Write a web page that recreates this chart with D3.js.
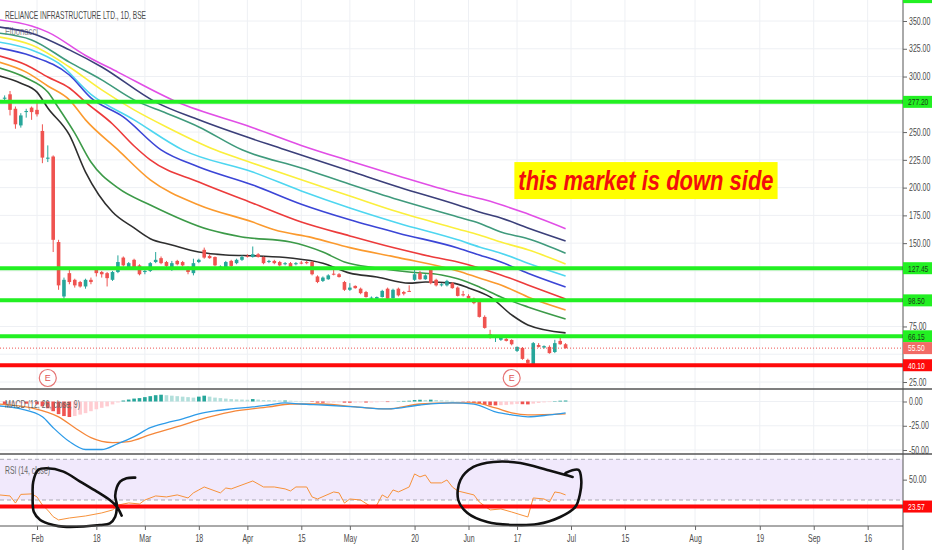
<!DOCTYPE html>
<html>
<head>
<meta charset="utf-8">
<script src="https://cdn.jsdelivr.net/npm/d3@7"></script>
<style>
  html, body { margin: 0; padding: 0; background: #fff; }
  svg { display: block; }
  text { font-family: "Liberation Sans", Arial, sans-serif; }
</style>
</head>
<body>
<div id="chart"></div>
<script>
// ---- data ----
const firstBar = -6; // first candle, bar index (0 = 1 Feb 2019)

// [open, high, low, close] per trading day
const candles = [
  [280,283,277,281],[284,287,265,270],[271,273,253,257],[256,267,254,265],[268,271,263,269],[272,273,261,268],
  [270,279,264,266],[251,257,222,227],[226,238,223,227],[228,229,142,153],[151,153,108,112],[102,119,100,117],
  [123,126,113,115],[117,118,110,112],[115,116,110,111],[111,118,109,117],[117,119,113,115],[126,128,120,123],
  [124,125,119,122],[123,124,111,118.5],[117,125,116,124],[124,139,123,133],[137,138,129,130],[128.5,133,127,132],
  [135,136,127,128],[130,131,121,122],[124,126,122,125],[125,133,124,132],[133,142,132,135],[136.5,138,131,132],
  [133,134,128,129.5],[127,134,125,132],[134,135,130,131],[133,134,129,130],[128.5,129,122,124],[123,136,121,132],
  [133,136,132,135],[144,146,136,137],[138.5,140,136,136.5],[137.5,138,129,130],[128,130,126,129],[128.5,134,128,133],
  [134,135,128,129.5],[132,136,131,135],[135,139,134,137.5],[138.5,140,137,138],[137.5,147,137,140],[140,141,137,137.5],
  [137.5,138,131,132],[133,135,132,134],[134,135,131,132],[133,134,129,130],[131,133,130,132],[132,133,128,128.5],
  [131,133,130,132],[132.5,134,131,132],[133,134,131,132],[133,134,121,122],[120,121,114,115],[116,120,115,119],
  [117.5,122,117,121],[122.5,126,121,122],[122,123,119,119.5],[115,116,107,108],[108,114,107,110],[111.5,112,109,109.5],
  [109,110,104,105],[106,107,101,101.5],[100,102,98,101],[100,102,99,101.5],[101.5,108,101,107],[109,110,99,100],
  [100.5,109,100,108],[109,110,102,103],[106,107,103,104.5],[107,112,106,106.5],[117,126,116,122],[123,125,117,117.5],
  [117.5,122,117,121],[127,128,113,114],[117,118,111,112],[112,114,111,113],[112,117,111,116],[114,115,109,109.5],
  [110,111,102,102.5],[104,107,102,103],[102.5,104,99,100],[100,101,95,96],[97,98,83,83.6],[83.6,85,73,73.7],
  [68,72,64,64.7],[65.5,67,61,65.6],[63,66,62,65.6],[63.8,65,61.5,62],[62.8,63.5,58,59],[53,57,52,56.6],
  [55.7,56.5,45,45.8],[44.9,46,41.5,42.2],[40.4,61,40,60],[58.3,60,56,56.6],[56,58,55,57.3],[56.6,58,50.5,51],
  [52,63,51,60],[62,65,58.5,59],[59,60,55,55.5]
];

// Fibonacci ribbon, [bar, price] read at sample bars
const maMagenta = [[-7,351],[-1,345.5],[2,340],[9,319],[15,304],[26,277],[40,254],[49,238],[58,224],[67,210.5],[78,195],[83,189],[90,178],[98,163]];
const maNavy = [[-7,344.6],[-1,339],[6,324],[12,308.6],[22,277],[30,261],[46,234],[58,215],[67,200.6],[78,184.4],[82,178],[86,172.7],[91,163.7],[98,152]];
const maTeal = [[-7,339],[-1,333],[6,313],[12,297],[18,279],[24,267],[30,254.6],[38,234],[49,217.7],[58,203],[67,189],[78,173.6],[82,168],[86,160],[91,154],[98,141]];
const maYellow = [[-7,335.6],[-1,328.4],[6,308.6],[12,288],[18,270],[24,254.6],[33,234],[40,222],[49,207],[58,192.5],[67,178],[78,162.8],[82,157.4],[86,151],[91,144],[98,131.3]];
const maCyan = [[-7,331],[-1,324],[4,312],[10,284],[18,261],[27,234],[40,214],[49,197],[58,181.7],[67,168],[78,153],[82,146.6],[86,141],[91,132],[98,120.5]];
const maBlue = [[-7,325.7],[-1,318.5],[6,301.4],[10,280.7],[16,263.6],[23,234],[30,218.6],[40,202.4],[49,185],[58,171],[67,159],[78,145.7],[82,139.4],[86,133],[91,123],[98,110.6]];
const maRed = [[-7,318.5],[-2,310.4],[2,299.6],[6,289.7],[9,277],[14,257.3],[18,237.5],[21,225],[30,205],[40,186],[49,169],[58,156.5],[66,146],[73,138],[78,133],[82,127.7],[86,121.4],[91,112.4],[98,99.8]];
const maOrange = [[-7,313],[-2,304],[2,291.5],[6,279],[9,261],[15,234],[21,207],[30,184.4],[40,169],[44,162],[51,155],[58,146],[67,137],[78,125],[82,118.7],[86,112.4],[91,101.6],[98,89.9]];
const maGreen = [[-7,307.7],[-2,298.7],[2,286],[4,271.7],[7,249],[10,223],[15,199.7],[21,184.4],[32,162],[38,155.6],[47,151],[53,142],[57,133],[63,127.7],[69,124],[75,121.4],[78,118],[82,110.6],[86,101.6],[91,92.6],[98,81.8]];
const maBlack = [[-7,300.5],[-3,294],[0,286],[2,271.7],[6,247.4],[9,214],[14,178],[18,163.7],[21,154],[25,148.4],[30,142],[35,139.4],[41,138.5],[47,136.7],[53,132],[58,123],[63,119.6],[69,114],[72,115],[77,114],[80,109.7],[84,101.6],[88,85.4],[91,76.4],[98,69.2]];

// MACD (12, 26, close, 9)
const macdLine = [[-7,-4.6],[-3,-7.7],[1,-15.8],[3,-27],[6,-41.3],[9,-49.5],[12,-49.5],[15,-43.4],[18,-36.2],[21,-27],[24,-22],[27,-17.9],[30,-12.8],[33,-9.7],[36,-7.7],[40,-5.6],[43,-3.6],[46,-1.5],[49,-2.6],[53,-3.6],[59,-5.6],[65,-7.7],[71,-3.6],[77,-1.5],[81,-2.6],[85,-10.7],[88,-13.8],[91,-15.8],[95,-13.8],[98,-11.7]];
const signalLine = [[-7,-2.6],[-1,-6.6],[4,-15.8],[7,-27],[10,-37.2],[14,-42.3],[17,-41.3],[21,-34.2],[26,-26],[30,-18.9],[36,-10.7],[43,-5.6],[47,-2.6],[53,-2.6],[59,-5.6],[65,-7.7],[71,-2.6],[77,-1.5],[81,-1.5],[85,-6.6],[88,-11.7],[91,-13.8],[98,-12.8]];
const histogram = [
  -2.6,-2.4,-2.2,-2.0,-2.3,-2.1,-3,-5,-7,-10,-13,-15,-16,-15,-13.5,-12,-10,-8,-6.5,-5,-3,-1,1,2,3,3.5,4.5,5.5,6.5,7,
  6.5,6,5.5,5,4.5,4,5,6,5,4,3.5,3,2.5,2.2,2,1.8,2.5,2,1.5,1.4,1.2,1,1,0.8,0.6,0.5,0.3,-0.5,-1.2,-1.3,
  -1.2,-1,-0.8,-1.2,-1.3,-1.1,-1,-1.1,-1,-0.8,-0.5,-0.6,-0.3,0.3,0.6,0.8,1.5,1.8,1.6,1.9,1.5,1.2,1,0.7,0.3,-0.3,
  -0.8,-1.5,-2.5,-3.5,-4,-4,-3.8,-3.5,-3,-2.5,-2.8,-3,-2.2,-1.5,-0.9,-0.6,0.4,0.8,1
];

// RSI (14, close)
const rsi = [[-7,35],[-5,34],[-4,27],[-3,35.5],[-1,36],[0,33],[1,25],[2,20],[3,13.6],[4,10.4],[6,12.3],[9,14.3],[12,17.3],[14,20.2],[15,25],[17,27.1],[19,26.1],[20,30],[22,34],[24,33],[26,35],[28,32],[29,37],[31,42.8],[34,37],[35,41.8],[36,40.9],[38,44.8],[40,48.7],[42,42.8],[44,42.8],[46,40.9],[47,38.9],[48,42.8],[50,42.8],[51,33],[52,31],[55,37.9],[56,37],[57,27],[58,31],[60,30],[62,23.2],[63,25],[64,35],[65,32],[66,39.9],[67,37.9],[69,42.8],[70,55.6],[71,52.7],[72,54.6],[73,46.8],[75,46.8],[76,49.7],[77,42.8],[78,38.9],[81,35],[82,28],[84,20.2],[86,21.2],[88,18.2],[91,13.3],[92,32],[94,31],[95,28],[96,37.9],[97,37],[98,35]];

// drawings
const greenLevels = [371.5, 277.2, 127.45, 98.5, 66.15];
const redLevels = [40.1];
const lastPrice = 55.5;
const rsiLevel = 23.57;
const earningsBars = [2, 88];
const rsiLoopA = [[18.2,52],[16.6,51.4],[15.4,48],[14.5,34.4],[14.8,25.1],[14.5,13.6],[13.5,7.1],[11.7,5.5],[4.9,3.8],[3,5.5],[0.6,10.4],[-0.6,18.5],[-0.8,35],[-0.7,48],[0.2,59.5],[1.8,61.2],[4.9,57.9],[8,48],[11.1,38.2],[13.5,30],[14.8,23.5],[15.7,14.6]];
const rsiLoopB = [[98,56.6],[100.4,59.5],[100.9,49.7],[100.7,36.9],[99.8,23.2],[97,13.3],[92.8,6.4],[88.3,5.5],[83.5,8.4],[79.8,17.3],[78.1,30],[78.5,49.7],[80.9,62.5],[84.6,67.4],[89.6,66.4],[94.6,59.5],[98,54.6],[99.3,52.7]];
const note = "this market is down side";

// time axis
const tickLabels = ["Feb","18","Mar","18","Apr","15","May","20","Jun","17","Jul","15","Aug","19","Sep","16"];
const tickBars = [0,11,20,30,39,49,58,70,80,89,99,109,122,134,144,154];
const priceTicks = d3.range(25, 351, 25);

// ---- layout ----
const W = 932, H = 550;
const axisX = 903;
const priceBottom = 389, macdBottom = 454, rsiBottom = 526;
const UP = "#26a69a", DOWN = "#ef5350", GRID = "#eef0f4";
const NARROW = 0.7; // the screenshot's fonts are condensed

const x = d3.scaleLinear().domain([0, 99]).range([37, 571]);
const yPrice = d3.scaleLinear().domain([25, 350]).range([382, 21]);
const yMacd = d3.scaleLinear().domain([-50, 0]).range([450, 401.5]);
const yRsi = d3.scaleLinear().domain([30, 70]).range([500, 459.3]);

// squeeze text horizontally to the narrow look
function condense(sel, k) {
  sel.each(function () {
    const t = d3.select(this);
    const x0 = +t.attr("x") || 0;
    t.attr("x", x0 / k).attr("transform", `scale(${k},1)`);
  });
}

const svg = d3.select("#chart").append("svg")
  .attr("width", W).attr("height", H)
  .style("background", "#fff");

const defs = svg.append("defs");
[["clip-price", 0, priceBottom], ["clip-macd", priceBottom, macdBottom], ["clip-rsi", macdBottom, rsiBottom]]
  .forEach(([id, y0, y1]) => {
    defs.append("clipPath").attr("id", id).append("rect")
      .attr("x", 0).attr("y", y0).attr("width", axisX).attr("height", y1 - y0);
  });

// grid
const grid = svg.append("g").attr("stroke", GRID).attr("stroke-width", 1);
tickBars.forEach(i => {
  grid.append("line").attr("x1", x(i)).attr("x2", x(i)).attr("y1", 0).attr("y2", rsiBottom);
});
priceTicks.forEach(v => {
  grid.append("line").attr("x1", 0).attr("x2", axisX).attr("y1", yPrice(v)).attr("y2", yPrice(v));
});
[0, -25, -50].forEach(v => {
  grid.append("line").attr("x1", 0).attr("x2", axisX).attr("y1", yMacd(v)).attr("y2", yMacd(v));
});
grid.append("line").attr("x1", 0).attr("x2", axisX).attr("y1", yRsi(50)).attr("y2", yRsi(50));

// RSI band
svg.append("rect")
  .attr("x", 0).attr("width", axisX)
  .attr("y", yRsi(70)).attr("height", yRsi(30) - yRsi(70))
  .attr("fill", "#f1e9fc");
[70, 30].forEach(v => {
  svg.append("line").attr("x1", 0).attr("x2", axisX).attr("y1", yRsi(v)).attr("y2", yRsi(v))
    .attr("stroke", "#a9a9b4").attr("stroke-dasharray", "4,3");
});

// pane titles
const label = (t, y, size, color, len) => svg.append("text")
  .attr("x", 5).attr("y", y).attr("font-size", size).attr("fill", color)
  .attr("textLength", len).attr("lengthAdjust", "spacingAndGlyphs").text(t);
label("RELIANCE INFRASTRUCTURE LTD., 1D, BSE", 19, 11.5, "#4a4a4a", 141);
label("Fibonacci", 35, 10.5, "#8a8a8a", 33);

// ribbon
const priceG = svg.append("g").attr("clip-path", "url(#clip-price)");
const ribbon = [
  [maMagenta, "#e14ee6"], [maNavy, "#3b3f7a"], [maTeal, "#3f9a7c"], [maYellow, "#fbef3c"], [maCyan, "#4ed6f0"],
  [maBlue, "#3b45d6"], [maRed, "#ec3b3b"], [maOrange, "#fb9a2e"], [maGreen, "#3c9a48"], [maBlack, "#2e2e2e"]
];
const priceLine = d3.line().x(d => x(d[0])).y(d => yPrice(d[1])).curve(d3.curveMonotoneX);
priceG.selectAll(".ma")
  .data(ribbon)
  .enter()
  .append("path")
  .attr("class", "ma")
  .attr("d", d => priceLine(d[0]))
  .attr("fill", "none")
  .attr("stroke", d => d[1])
  .attr("stroke-width", 1.6);

// candles
const bars = candles.map((c, k) => ({ i: firstBar + k, o: c[0], h: c[1], l: c[2], c: c[3] }));
priceG.selectAll(".wick")
  .data(bars)
  .enter()
  .append("line")
  .attr("x1", d => x(d.i)).attr("x2", d => x(d.i))
  .attr("y1", d => yPrice(d.h)).attr("y2", d => yPrice(d.l))
  .attr("stroke", d => d.c >= d.o ? UP : DOWN);
priceG.selectAll(".body")
  .data(bars)
  .enter()
  .append("rect")
  .attr("x", d => x(d.i) - 1.8).attr("width", 3.6)
  .attr("y", d => yPrice(Math.max(d.o, d.c)))
  .attr("height", d => Math.max(1, Math.abs(yPrice(d.o) - yPrice(d.c))))
  .attr("fill", d => d.c >= d.o ? UP : DOWN);

// last price dotted line
priceG.append("line")
  .attr("x1", 0).attr("x2", axisX).attr("y1", yPrice(lastPrice)).attr("y2", yPrice(lastPrice))
  .attr("stroke", DOWN).attr("stroke-dasharray", "1,2");

// horizontal levels
greenLevels.forEach(v => {
  priceG.append("line").attr("x1", 0).attr("x2", axisX).attr("y1", yPrice(v)).attr("y2", yPrice(v))
    .attr("stroke", "#22f022").attr("stroke-width", 4);
});
redLevels.forEach(v => {
  priceG.append("line").attr("x1", 0).attr("x2", axisX).attr("y1", yPrice(v)).attr("y2", yPrice(v))
    .attr("stroke", "#ff0a0a").attr("stroke-width", 4);
});

// earnings markers
earningsBars.forEach(i => {
  const g = priceG.append("g").attr("transform", `translate(${x(i)},${priceBottom - 11})`);
  g.append("circle").attr("r", 8.5).attr("fill", "#fff").attr("stroke", "#e57373").attr("stroke-width", 1.2);
  g.append("text").attr("text-anchor", "middle").attr("dy", "0.35em")
    .attr("font-size", 9).attr("fill", "#e05555").text("E");
});

// note box
const noteG = svg.append("g");
const nx0 = x(88.5), nx1 = x(137.3), ny0 = yPrice(223), ny1 = yPrice(189.7);
noteG.append("rect").attr("x", nx0).attr("y", ny0).attr("width", nx1 - nx0).attr("height", ny1 - ny0)
  .attr("fill", "#ffff00");
noteG.append("text")
  .attr("x", nx0 + 4).attr("y", ny1 - 9)
  .attr("font-size", 27).attr("font-weight", "bold").attr("font-style", "italic")
  .attr("textLength", nx1 - nx0 - 8).attr("lengthAdjust", "spacingAndGlyphs")
  .attr("fill", "#f20d0d")
  .text(note);

// MACD pane
const macdG = svg.append("g").attr("clip-path", "url(#clip-macd)");
const histData = histogram.map((v, k) => ({ i: firstBar + k, v: v, prev: k ? histogram[k - 1] : v }));
macdG.selectAll(".hist")
  .data(histData)
  .enter()
  .append("rect")
  .attr("x", d => x(d.i) - 1.8).attr("width", 3.6)
  .attr("y", d => yMacd(Math.max(0, d.v)))
  .attr("height", d => Math.abs(yMacd(d.v) - yMacd(0)))
  .attr("fill", d => d.v >= 0 ? (d.v >= d.prev ? "#26a69a" : "#b2dfdb") : (d.v <= d.prev ? "#ef5350" : "#ffcdd2"));
const macdPath = d3.line().x(d => x(d[0])).y(d => yMacd(d[1])).curve(d3.curveMonotoneX);
macdG.append("path").attr("d", macdPath(signalLine)).attr("fill", "none").attr("stroke", "#f5873a").attr("stroke-width", 1.3);
macdG.append("path").attr("d", macdPath(macdLine)).attr("fill", "none").attr("stroke", "#2d9be8").attr("stroke-width", 1.3);
label("MACD (12, 26, close, 9)", 408, 10.5, "#666", 75);

// RSI pane
const rsiG = svg.append("g").attr("clip-path", "url(#clip-rsi)");
rsiG.append("path")
  .attr("d", d3.line().x(d => x(d[0])).y(d => yRsi(d[1]))(rsi))
  .attr("fill", "none").attr("stroke", "#f7923a").attr("stroke-width", 1);
rsiG.append("line").attr("x1", 0).attr("x2", axisX).attr("y1", yRsi(rsiLevel)).attr("y2", yRsi(rsiLevel))
  .attr("stroke", "#ff0a0a").attr("stroke-width", 4);
label("RSI (14, close)", 474, 10.5, "#666", 45);

// hand drawn loops
const loop = d3.line().x(d => x(d[0])).y(d => yRsi(d[1])).curve(d3.curveCatmullRom);
[rsiLoopA, rsiLoopB].forEach(pts => {
  svg.append("path").attr("d", loop(pts))
    .attr("fill", "none").attr("stroke", "#111").attr("stroke-width", 2.6)
    .attr("stroke-linecap", "round").attr("stroke-linejoin", "round");
});

// pane borders
const frame = svg.append("g").attr("stroke", "#555");
frame.append("line").attr("x1", 0).attr("x2", W).attr("y1", priceBottom).attr("y2", priceBottom).attr("stroke-width", 1.3);
frame.append("line").attr("x1", 0).attr("x2", W).attr("y1", macdBottom).attr("y2", macdBottom).attr("stroke-width", 1.3);
frame.append("line").attr("x1", 0).attr("x2", axisX).attr("y1", rsiBottom).attr("y2", rsiBottom);
frame.append("line").attr("x1", axisX).attr("x2", axisX).attr("y1", 0).attr("y2", H);

// price axis, hiding ticks under the level labels
const labelled = greenLevels.concat(redLevels, [lastPrice]);
const shownTicks = priceTicks.filter(t => labelled.every(v => Math.abs(yPrice(t) - yPrice(v)) >= 9));
const styleAxis = g => {
  g.select(".domain").remove();
  g.selectAll(".tick line").attr("stroke", "#666");
  g.selectAll(".tick text").attr("fill", "#4a4a4a").attr("font-size", 10).call(condense, NARROW);
};
svg.append("g").attr("transform", `translate(${axisX},0)`)
  .call(d3.axisRight(yPrice).tickValues(shownTicks).tickSize(4).tickPadding(2).tickFormat(d3.format(".2f")))
  .call(styleAxis);
svg.append("g").attr("transform", `translate(${axisX},0)`)
  .call(d3.axisRight(yMacd).tickValues([0, -25, -50]).tickSize(4).tickPadding(2).tickFormat(d => d3.format(".2f")(d).replace("−", "-")))
  .call(styleAxis);
svg.append("g").attr("transform", `translate(${axisX},0)`)
  .call(d3.axisRight(yRsi).tickValues([50]).tickSize(4).tickPadding(2).tickFormat(d3.format(".2f")))
  .call(styleAxis);

// axis labels for drawings
const tag = (y, text, bg, fg) => {
  const g = svg.append("g").attr("transform", `translate(${axisX},${y})`);
  g.append("rect").attr("x", 0).attr("y", -6).attr("width", W - axisX).attr("height", 12).attr("fill", bg);
  g.append("text").attr("x", 5).attr("dy", "0.35em").attr("font-size", 9.5).attr("fill", fg).text(text)
    .call(condense, NARROW);
};
greenLevels.forEach(v => tag(yPrice(v), d3.format(".2f")(v), "#22f022", "#1b3a1b"));
tag(yPrice(lastPrice), d3.format(".2f")(lastPrice), "#f26b66", "#fff");
redLevels.forEach(v => tag(yPrice(v), d3.format(".2f")(v), "#ff0a0a", "#fff"));
tag(yRsi(rsiLevel), d3.format(".2f")(rsiLevel), "#ff0a0a", "#fff");

// time axis
svg.append("g").attr("transform", `translate(0,${rsiBottom})`)
  .call(d3.axisBottom(x).tickValues(tickBars).tickSize(4).tickPadding(5).tickFormat((d, k) => tickLabels[k]))
  .call(styleAxis);
</script>
</body>
</html>
